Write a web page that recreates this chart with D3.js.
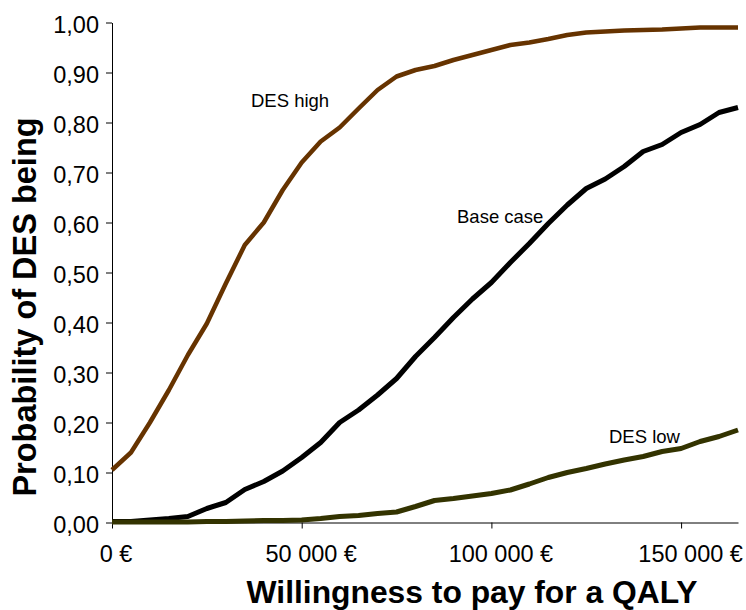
<!DOCTYPE html>
<html>
<head>
<meta charset="utf-8">
<script src="https://cdn.jsdelivr.net/npm/d3@7"></script>
<style>
  html, body { margin: 0; padding: 0; background: #fff; }
  svg { display: block; font-family: "Liberation Sans", Arial, sans-serif; }
</style>
</head>
<body>
<svg id="chart" width="746" height="610"></svg>
<script>
// ---- data ----
const wtp = [0, 5000, 10000, 15000, 20000, 25000, 30000, 35000, 40000, 45000,
  50000, 55000, 60000, 65000, 70000, 75000, 80000, 85000, 90000, 95000,
  100000, 105000, 110000, 115000, 120000, 125000, 130000, 135000, 140000, 145000,
  150000, 155000, 160000, 165000];
const desHigh = [0.105, 0.14, 0.20, 0.265, 0.335, 0.398, 0.478, 0.555, 0.60, 0.665,
  0.72, 0.762, 0.79, 0.828, 0.865, 0.892, 0.905, 0.913, 0.925, 0.935,
  0.945, 0.955, 0.96, 0.967, 0.975, 0.98, 0.982, 0.984, 0.985, 0.986,
  0.988, 0.99, 0.99, 0.99];
const baseCase = [0.002, 0.002, 0.005, 0.008, 0.012, 0.028, 0.04, 0.066, 0.082, 0.103,
  0.13, 0.16, 0.2, 0.225, 0.255, 0.288, 0.332, 0.37, 0.41, 0.447,
  0.48, 0.52, 0.558, 0.598, 0.635, 0.668, 0.687, 0.712, 0.742, 0.756,
  0.78, 0.796, 0.82, 0.83];
const desLow = [0.001, 0.001, 0.001, 0.001, 0.001, 0.002, 0.002, 0.003, 0.004, 0.004,
  0.005, 0.008, 0.012, 0.014, 0.018, 0.021, 0.032, 0.044, 0.048, 0.053,
  0.058, 0.065, 0.077, 0.09, 0.1, 0.108, 0.117, 0.125, 0.132, 0.142,
  0.148, 0.162, 0.172, 0.185];
const seriesNames = ["Base case", "DES low", "DES high"];
const xTicks = [0, 50000, 100000, 150000];
const yTicks = [0, 0.1, 0.2, 0.3, 0.4, 0.5, 0.6, 0.7, 0.8, 0.9, 1.0];
const xTitle = "Willingness to pay for a QALY";
const yTitle = "Probability of DES being";

// ---- layout ----
const svg = d3.select("#chart");
const mLeft = 112, mRight = 738, mTop = 22.5, mBottom = 522.5;
const x = d3.scaleLinear().domain([0, 165000]).range([mLeft, mRight]);
const y = d3.scaleLinear().domain([0, 1]).range([mBottom, mTop]);

const loc = d3.formatLocale({decimal: ",", thousands: " ", grouping: [3], currency: ["", " €"]});
const fy = loc.format(".2f");
const fx = loc.format(",.0f");

// y axis
const yAxis = svg.append("g")
  .attr("transform", `translate(${mLeft},0)`)
  .call(d3.axisLeft(y).tickValues(yTicks).tickFormat(fy).tickSize(6).tickSizeOuter(0).tickPadding(7));
yAxis.selectAll("text")
  .attr("font-size", 23.5).attr("font-family", "Liberation Sans, Arial, sans-serif")
  .attr("fill", "#000").attr("dy", "0.43em");
yAxis.select(".domain").attr("stroke", "#000");
yAxis.selectAll(".tick line").attr("stroke", "#000");

// x axis
const xAxis = svg.append("g")
  .attr("transform", `translate(0,${mBottom})`)
  .call(d3.axisBottom(x).tickValues(xTicks).tickFormat(d => fx(d) + " €").tickSize(6).tickSizeOuter(0).tickPadding(17));
xAxis.selectAll("text")
  .attr("font-size", 23.5).attr("font-family", "Liberation Sans, Arial, sans-serif")
  .attr("fill", "#000")
  .attr("dx", (d, i) => i === 0 ? 3.5 : 9);
xAxis.select(".domain").attr("stroke", "#000");
xAxis.selectAll(".tick line").attr("stroke", "#000");

// lines
const series = [
  {name: seriesNames[0], values: baseCase, color: "#000000", width: 5},
  {name: seriesNames[1], values: desLow, color: "#333300", width: 5},
  {name: seriesNames[2], values: desHigh, color: "#663300", width: 4.5}
];
const line = d3.line().x((d, i) => x(wtp[i])).y(d => y(d));
svg.append("g").selectAll("path").data(series).join("path")
  .attr("d", s => line(s.values))
  .attr("fill", "none")
  .attr("stroke", s => s.color)
  .attr("stroke-width", s => s.width)
  .attr("stroke-linejoin", "round")
  .attr("stroke-linecap", "butt");

// labels on curves
const labels = [
  {text: "DES high", x: 251, y: 107},
  {text: "Base case", x: 457, y: 222.5},
  {text: "DES low", x: 609, y: 442.5}
];
svg.append("g").selectAll("text").data(labels).join("text")
  .attr("x", d => d.x).attr("y", d => d.y)
  .attr("font-size", 18.5).attr("fill", "#000")
  .text(d => d.text);

// axis titles
svg.append("text")
  .attr("x", 472).attr("y", 603)
  .attr("text-anchor", "middle")
  .attr("font-size", 31.8).attr("font-weight", "bold")
  .text(xTitle);
svg.append("text")
  .attr("transform", "translate(36,307) rotate(-90)")
  .attr("text-anchor", "middle")
  .attr("font-size", 32.5).attr("font-weight", "bold")
  .text(yTitle);
</script>
</body>
</html>
